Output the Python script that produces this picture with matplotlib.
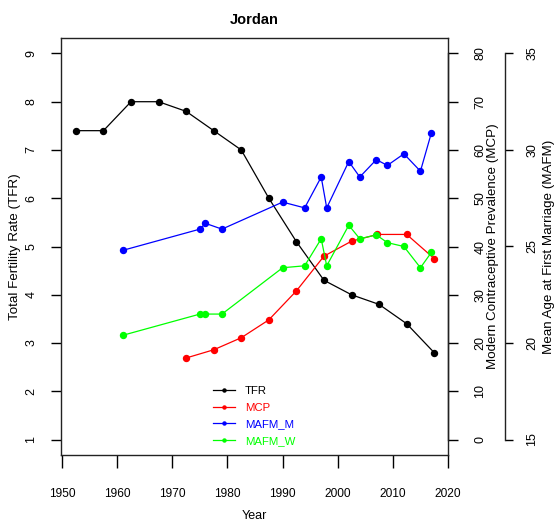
import matplotlib.pyplot as plt
from matplotlib.lines import Line2D

# Jordan: fertility, contraception and age at first marriage
tfr_year = [1952.5, 1957.5, 1962.5, 1967.5, 1972.5, 1977.5, 1982.5,
            1987.5, 1992.5, 1997.5, 2002.5, 2007.5, 2012.5, 2017.5]
tfr = [7.4, 7.4, 8.0, 8.0, 7.8, 7.4, 7.0, 6.0, 5.1, 4.3, 4.0, 3.8, 3.4, 2.8]

mcp_year = [1972.5, 1977.5, 1982.5, 1987.5, 1992.5, 1997.5, 2002.5,
            2007.2, 2012.5, 2017.5]
mcp = [16.9, 18.6, 21.1, 24.8, 30.8, 38.0, 41.1, 42.5, 42.5, 37.5]

mafm_year = [1961, 1975, 1976, 1979, 1990, 1994, 1997, 1998, 2002, 2004,
             2007, 2009, 2012, 2015, 2017]
mafm_m = [24.8, 25.9, 26.2, 25.9, 27.3, 27.0, 28.6, 27.0, 29.4, 28.6,
          29.5, 29.2, 29.8, 28.9, 30.9]
mafm_w = [20.4, 21.5, 21.5, 21.5, 23.9, 24.0, 25.4, 24.0, 26.1, 25.4,
          25.6, 25.2, 25.0, 23.9, 24.7]

x_ticks = [1950, 1960, 1970, 1980, 1990, 2000, 2010, 2020]
tfr_ticks = [1, 2, 3, 4, 5, 6, 7, 8, 9]
mcp_ticks = [0, 10, 20, 30, 40, 50, 60, 70, 80]
mafm_ticks = [15, 20, 25, 30, 35]

plt.rcParams['font.family'] = ['Liberation Sans', 'DejaVu Sans']

W, H = 555, 523
fig = plt.figure(figsize=(W / 100, H / 100), dpi=100)
ax = fig.add_axes([61 / W, 1 - 455 / H, 387 / W, 417 / H])

lw = 0.9
ms = 4.3
axis_col = '#222222'
tick_fs = 9
label_fs = 9.6

# R style: 4% padding around the fixed ranges
ax.set_xlim(1949.8, 2020)
ax.set_ylim(0.68, 9.32)
ax.plot(tfr_year, tfr, color='black', lw=lw, marker='o', ms=ms)

for s in ax.spines.values():
    s.set_linewidth(1.0)
    s.set_color(axis_col)

ax.set_xticks(x_ticks)
ax.set_xticklabels([str(v) for v in x_ticks], fontsize=8.6)
ax.tick_params(axis='x', direction='out', length=9.5, width=1.0, pad=14.5)
ax.set_yticks(tfr_ticks)
ax.set_yticklabels([str(v) for v in tfr_ticks], fontsize=tick_fs,
                   rotation=90, va='center')
ax.tick_params(axis='y', direction='out', length=7, width=1.0, pad=10)

ax.set_xlabel('Year', fontsize=9, va='center')
ax.xaxis.set_label_coords(0.5, -0.146)
ax.set_ylabel('Total Fertility Rate (TFR)', fontsize=label_fs, va='center')
ax.yaxis.set_label_coords(-0.119, 0.5)
ax.set_title('Jordan', fontsize=10.5, fontweight='bold', pad=10)

# second axis: modern contraceptive prevalence
ax2 = ax.twinx()
ax2.set_ylim(-3.2, 83.2)
ax2.plot(mcp_year, mcp, color='red', lw=lw, marker='o', ms=ms)
for side in ['top', 'bottom', 'left']:
    ax2.spines[side].set_visible(False)
ax2.spines['right'].set_bounds(0, 80)
ax2.spines['right'].set_linewidth(1.0)
ax2.spines['right'].set_color(axis_col)
ax2.set_yticks(mcp_ticks)
ax2.set_yticklabels([str(v) for v in mcp_ticks], fontsize=tick_fs,
                    rotation=90, va='center')
ax2.tick_params(axis='y', direction='out', length=7, width=1.0, pad=12)
ax2.set_ylabel('Modern Contraceptive Prevalence (MCP)', fontsize=label_fs,
               va='center')
ax2.yaxis.set_label_coords(1.116, 0.5)

# third axis: mean age at first marriage, offset to the right
ax3 = ax.twinx()
ax3.set_ylim(14.2, 35.8)
ax3.plot(mafm_year, mafm_m, color='blue', lw=lw, marker='o', ms=ms)
ax3.plot(mafm_year, mafm_w, color='#00ff00', lw=lw, marker='o', ms=ms)
for side in ['top', 'bottom', 'left']:
    ax3.spines[side].set_visible(False)
ax3.spines['right'].set_position(('axes', 1.147))
ax3.spines['right'].set_bounds(15, 35)
ax3.spines['right'].set_linewidth(1.0)
ax3.spines['right'].set_color(axis_col)
ax3.set_yticks(mafm_ticks)
ax3.set_yticklabels([str(v) for v in mafm_ticks], fontsize=tick_fs,
                    rotation=90, va='center')
ax3.tick_params(axis='y', direction='out', length=6, width=1.0, pad=9.5)
ax3.set_ylabel('Mean Age at First Marriage (MAFM)', fontsize=label_fs,
               va='center')
ax3.yaxis.set_label_coords(1.2605, 0.5)

handles = [
    Line2D([], [], color='black', lw=lw, marker='o', ms=2.2, label='TFR'),
    Line2D([], [], color='red', lw=lw, marker='o', ms=2.2, label='MCP'),
    Line2D([], [], color='blue', lw=lw, marker='o', ms=2.2, label='MAFM_M'),
    Line2D([], [], color='#00ff00', lw=lw, marker='o', ms=2.2, label='MAFM_W'),
]
ax3.legend(handles=handles, loc='upper left', bbox_to_anchor=(0.393, 0.165),
           frameon=False, fontsize=8.2, labelcolor='linecolor',
           handlelength=1.95, handletextpad=0.85, labelspacing=0.58,
           borderpad=0, borderaxespad=0)

fig.savefig('out.png', dpi=100)
